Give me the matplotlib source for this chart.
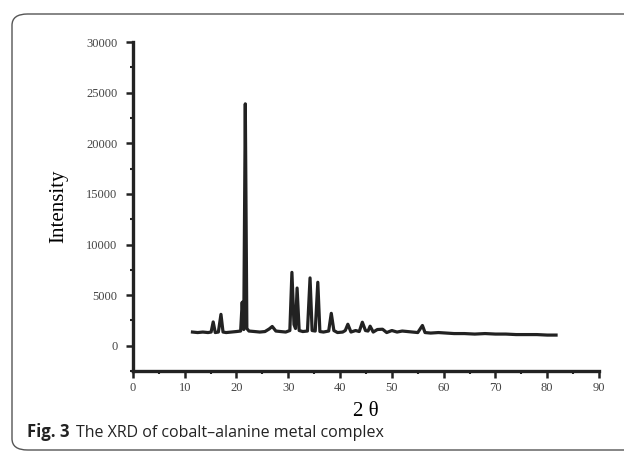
import matplotlib
matplotlib.use('Agg')
import matplotlib.pyplot as plt
from matplotlib.patches import FancyBboxPatch

# XRD trace (2 theta, intensity)
two_theta = [11.5, 12.5, 13.5, 14.5, 15.1, 15.5, 15.9, 16.5, 17.0, 17.4, 18.0, 19.0, 20.0,
             20.8, 21.1, 21.4, 21.7, 22.0, 22.4, 23.5, 24.5, 25.5, 26.3, 26.9, 27.6, 28.5,
             29.5, 30.3, 30.7, 31.1, 31.4, 31.7, 32.1, 32.8, 33.7, 34.2, 34.6, 35.2, 35.7,
             36.1, 36.8, 37.8, 38.3, 38.8, 39.5, 40.5, 41.0, 41.5, 42.1, 43.0, 43.7, 44.3,
             44.9, 45.4, 45.8, 46.4, 47.2, 48.2, 49.0, 50.0, 51.0, 52.0, 53.0, 54.0, 55.0,
             55.9, 56.4, 57.5, 59.0, 60.5, 62.0, 64.0, 66.0, 68.0, 70.0, 72.0, 74.0, 76.0,
             78.0, 80.0, 81.7]
intensity = [1350, 1300, 1350, 1300, 1350, 2350, 1300, 1350, 3100, 1350, 1300, 1350, 1400,
             1450, 4300, 1600, 23900, 1700, 1450, 1400, 1350, 1400, 1650, 1900, 1450, 1400,
             1350, 1500, 7250, 2100, 1700, 5700, 1500, 1400, 1450, 6700, 1500, 1450, 6270,
             1400, 1350, 1450, 3200, 1500, 1300, 1350, 1500, 2120, 1350, 1500, 1400, 2320,
             1500, 1450, 1930, 1350, 1600, 1630, 1300, 1500, 1350, 1450, 1400, 1350, 1300,
             2000, 1300, 1250, 1300, 1250, 1200, 1200, 1150, 1200, 1150, 1150, 1100, 1100,
             1100, 1050, 1050]

x_ticks = [0, 10, 20, 30, 40, 50, 60, 70, 80, 90]
y_ticks = [0, 5000, 10000, 15000, 20000, 25000, 30000]

fig = plt.figure(figsize=(6.24, 4.53), dpi=100)

# rounded frame around the figure
frame = FancyBboxPatch((12 / 624, 3 / 453), 640 / 624, 436 / 453,
                       boxstyle='round,pad=0,rounding_size=0.025',
                       transform=fig.transFigure, fill=False,
                       edgecolor='#555555', linewidth=1.0)
fig.patches.append(frame)

ax = fig.add_axes([0.213, 0.181, 0.747, 0.726])
ax.plot(two_theta, intensity, color='#222222', linewidth=2.3, solid_joinstyle='round')

ax.set_xlim(0, 90)
ax.set_ylim(-2500, 30000)
ax.set_xticks(x_ticks)
ax.set_yticks(y_ticks)
ax.set_xticks([5, 15, 25, 35, 45, 55, 65, 75, 85], minor=True)
ax.set_yticks([-2500, 2500, 7500, 12500, 17500, 22500, 27500], minor=True)
ax.set_xticklabels([str(v) for v in x_ticks], family='Liberation Serif', fontsize=9, color='#444444')
ax.set_yticklabels([str(v) for v in y_ticks], family='Liberation Serif', fontsize=9, color='#444444')
ax.tick_params(which='major', direction='out', length=5, width=1.8, color='#222222')
ax.tick_params(axis='y', which='major', pad=6)
ax.tick_params(axis='x', which='major', pad=3)
ax.tick_params(which='minor', direction='out', length=2.5, width=1.5, color='#222222')

for side in ['top', 'right']:
    ax.spines[side].set_visible(False)
for side in ['left', 'bottom']:
    ax.spines[side].set_linewidth(2.4)
    ax.spines[side].set_color('#222222')

ax.set_ylabel('Intensity', family='Liberation Serif', fontsize=15, labelpad=13)
ax.set_xlabel('2 θ', family='Liberation Serif', fontsize=15, labelpad=6)

fig.text(27 / 624, 1 - 437 / 453, 'Fig. 3', fontsize=12, family='Open Sans',
         weight='bold', ha='left', va='baseline', color='#222222')
fig.text(76 / 624, 1 - 437 / 453, 'The XRD of cobalt–alanine metal complex',
         fontsize=11.5, family='Open Sans', ha='left', va='baseline', color='#222222')

fig.savefig('out.png', dpi=100)
